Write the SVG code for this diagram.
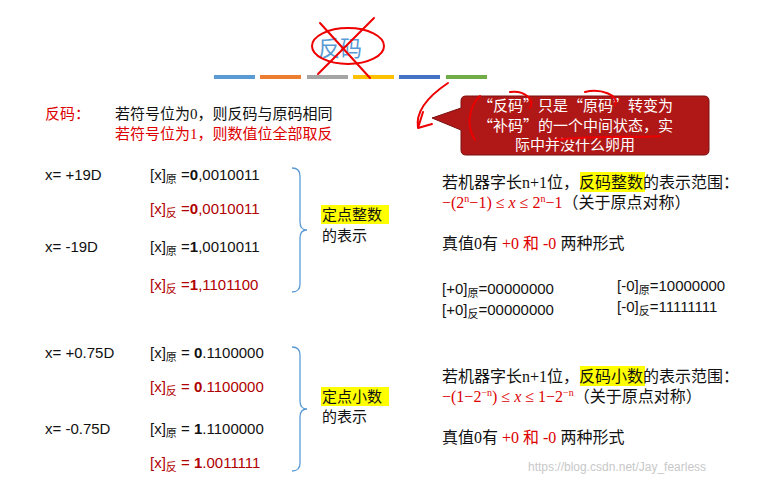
<svg xmlns="http://www.w3.org/2000/svg" width="768" height="481" viewBox="0 0 768 481">
<style>
text{font-family:"Liberation Sans","Noto Sans CJK SC",sans-serif;font-size:15px;fill:#111}
.cn{font-family:"Liberation Serif","Noto Sans CJK SC",serif;font-size:15px}
.big{font-size:16px}
.r{fill:#d00}
.dr{fill:#b00000}
.w{fill:#fff;font-size:15px;font-family:"Noto Sans CJK SC",sans-serif}
.ink{fill:none;stroke:#e00;stroke-width:2;stroke-linecap:round}
.brace{fill:none;stroke:#5b9bd5;stroke-width:1.3}
</style>
<rect width="768" height="481" fill="#fff"/>
<g id="title">
<text x="318" y="56" style="font-size:22px;fill:#5b9bd5;font-family:'Noto Sans CJK SC',sans-serif">反码</text>
<rect x="214" y="75" width="41" height="4" fill="#5b9bd5"/>
<rect x="260" y="75" width="41" height="4" fill="#ed7d31"/>
<rect x="307" y="75" width="41" height="4" fill="#a5a5a5"/>
<rect x="353" y="75" width="41" height="4" fill="#ffc000"/>
<rect x="399" y="75" width="41" height="4" fill="#4472c4"/>
<rect x="446" y="75" width="41" height="4" fill="#70ad47"/>
<ellipse cx="348" cy="46" rx="36" ry="18" class="ink"/>
<path d="M320 23 L370 78 M374 18 L318 74" class="ink"/>
</g>
<g id="callout">
<path d="M466 96 H704 Q709 96 709 101 V150 Q709 155 704 155 H466 Q461 155 461 150 V130 L432 118 L461 108 V101 Q461 96 466 96 Z" fill="#b01818" stroke="#7a1010"/>
<text class="w" x="478" y="111">“反码”只是“原码”转变为</text>
<text class="w" x="478" y="131">“补码”的一个中间状态，实</text>
<text class="w" x="515" y="150">际中并没什么卵用</text>
<path d="M448 83 C430 95 415 110 418 128 L423 112 M418 128 L432 124" class="ink"/>
<path d="M480 96 C470 105 465 125 475 140 M510 92 C525 90 535 100 530 108 M585 92 C600 88 620 95 615 105 M555 140 C600 135 640 138 660 136" class="ink" stroke-width="1.3"/>
</g>
<g id="rule">
<text class="cn r" x="45" y="119">反码：</text>
<text class="cn" x="115" y="119">若符号位为0，则反码与原码相同</text>
<text class="cn r" x="115" y="139">若符号位为1，则数值位全部取反</text>
</g>
<g id="int">
<text x="45" y="180">x= +19D</text>
<text x="150" y="180">[x]<tspan font-size="11" dy="3">原</tspan><tspan dy="-3"> =</tspan><tspan font-weight="bold">0</tspan>,0010011</text>
<text x="150" y="214" class="dr">[x]<tspan font-size="11" dy="3">反</tspan><tspan dy="-3"> =</tspan><tspan font-weight="bold">0</tspan>,0010011</text>
<text x="45" y="252">x= -19D</text>
<text x="150" y="252">[x]<tspan font-size="11" dy="3">原</tspan><tspan dy="-3"> =</tspan><tspan font-weight="bold">1</tspan>,0010011</text>
<text x="150" y="290" class="dr">[x]<tspan font-size="11" dy="3">反</tspan><tspan dy="-3"> =</tspan><tspan font-weight="bold">1</tspan>,1101100</text>
<path d="M292 168 Q300 168 300 176 V222 Q300 230 307 230 Q300 230 300 238 V284 Q300 292 292 292" class="brace"/>
<rect x="321" y="205" width="68" height="19" fill="#ffff00"/>
<text class="cn" x="322" y="220">定点整数</text>
<text class="cn" x="322" y="241">的表示</text>
</g>
<g id="frac">
<text x="45" y="358">x= +0.75D</text>
<text x="150" y="358">[x]<tspan font-size="11" dy="3">原</tspan><tspan dy="-3"> = </tspan><tspan font-weight="bold">0</tspan>.1100000</text>
<text x="150" y="392" class="dr">[x]<tspan font-size="11" dy="3">反</tspan><tspan dy="-3"> = </tspan><tspan font-weight="bold">0</tspan>.1100000</text>
<text x="45" y="434">x= -0.75D</text>
<text x="150" y="434">[x]<tspan font-size="11" dy="3">原</tspan><tspan dy="-3"> = </tspan><tspan font-weight="bold">1</tspan>.1100000</text>
<text x="150" y="468" class="dr">[x]<tspan font-size="11" dy="3">反</tspan><tspan dy="-3"> = </tspan><tspan font-weight="bold">1</tspan>.0011111</text>
<path d="M292 347 Q300 347 300 355 V401 Q300 409 307 409 Q300 409 300 417 V463 Q300 471 292 471" class="brace"/>
<rect x="321" y="387" width="68" height="19" fill="#ffff00"/>
<text class="cn" x="322" y="402">定点小数</text>
<text class="cn" x="322" y="422">的表示</text>
</g>
<g id="right">
<rect x="580" y="172" width="65" height="20" fill="#ffff00"/>
<text class="cn big" x="442" y="188">若机器字长n+1位，反码整数的表示范围：</text>
<text class="cn big" x="442" y="208"><tspan class="r">−(2</tspan><tspan class="r" font-size="10" dy="-6">n</tspan><tspan class="r" dy="6">−1)  ≤ </tspan><tspan class="r" font-style="italic">x</tspan><tspan class="r"> ≤ 2</tspan><tspan class="r" font-size="10" dy="-6">n</tspan><tspan class="r" dy="6">−1</tspan>（关于原点对称）</text>
<text class="cn big" x="442" y="249">真值0有 <tspan class="r">+0 和 -0</tspan> 两种形式</text>
<text x="442" y="294">[+0]<tspan font-size="11" dy="3">原</tspan><tspan dy="-3">=00000000</tspan></text>
<text x="442" y="315">[+0]<tspan font-size="11" dy="3">反</tspan><tspan dy="-3">=00000000</tspan></text>
<text x="617" y="291">[-0]<tspan font-size="11" dy="3">原</tspan><tspan dy="-3">=10000000</tspan></text>
<text x="617" y="312">[-0]<tspan font-size="11" dy="3">反</tspan><tspan dy="-3">=11111111</tspan></text>
<rect x="580" y="366" width="65" height="20" fill="#ffff00"/>
<text class="cn big" x="442" y="382">若机器字长n+1位，反码小数的表示范围：</text>
<text class="cn big" x="442" y="402"><tspan class="r">−(1−2</tspan><tspan class="r" font-size="10" dy="-6">−n</tspan><tspan class="r" dy="6">)  ≤ </tspan><tspan class="r" font-style="italic">x</tspan><tspan class="r"> ≤ 1−2</tspan><tspan class="r" font-size="10" dy="-6">−n</tspan><tspan dy="6">（关于原点对称）</tspan></text>
<text class="cn big" x="442" y="443">真值0有 <tspan class="r">+0 和 -0</tspan> 两种形式</text>
<text x="528" y="471" style="font-size:12px;fill:#c8c8c8">https://blog.csdn.net/Jay_fearless</text>
</g>
</svg>
